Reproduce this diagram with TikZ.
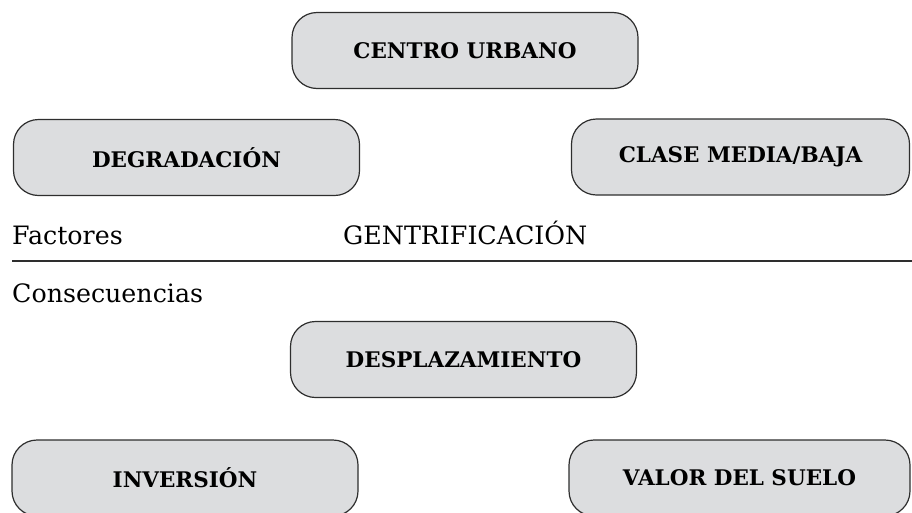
\documentclass[tikz,border=0pt]{standalone}
\usepackage{fontspec}
\setmainfont{DejaVu Serif}
\definecolor{boxgray}{HTML}{DCDDDF}
\definecolor{edgegray}{HTML}{2E2E2E}

\begin{document}
\begin{tikzpicture}[x=1pt,y=-1pt,
    caja/.style={draw=edgegray,line width=1.2pt,fill=boxgray,rounded corners=25pt,
      minimum width=346pt,minimum height=76pt,inner sep=0pt,
      font=\fontsize{21.5}{24}\selectfont\bfseries},
    rotulo/.style={anchor=base west,inner sep=0pt,font=\fontsize{25.3}{28}\selectfont}]
  \useasboundingbox (0,0) rectangle (912,512);
  % factores
  \node[caja] (centro) at (465,50.5) {CENTRO URBANO};
  \node[caja] (degrad) at (186.5,157.5) {DEGRADACIÓN};
  \node[caja,minimum width=338pt] (clase) at (740.5,157) {CLASE MEDIA/BAJA};
  \node[rotulo] (fact) at (12,244) {Factores};
  \node[rotulo] (gentri) at (343,244) {GENTRIFICACIÓN};
  \coordinate (izq) at (12,261);
  \coordinate (der) at (912,261);
  \draw[edgegray,line width=1.6pt] (izq) -- (der);
  \node[rotulo] (conse) at (12,302) {Consecuencias};
  % consecuencias
  \node[caja] (despl) at (463.5,359.5) {DESPLAZAMIENTO};
  \node[caja] (inver) at (185,478) {INVERSIÓN};
  \node[caja,minimum width=341pt] (valor) at (739.5,478) {VALOR DEL SUELO};
\end{tikzpicture}
\end{document}
